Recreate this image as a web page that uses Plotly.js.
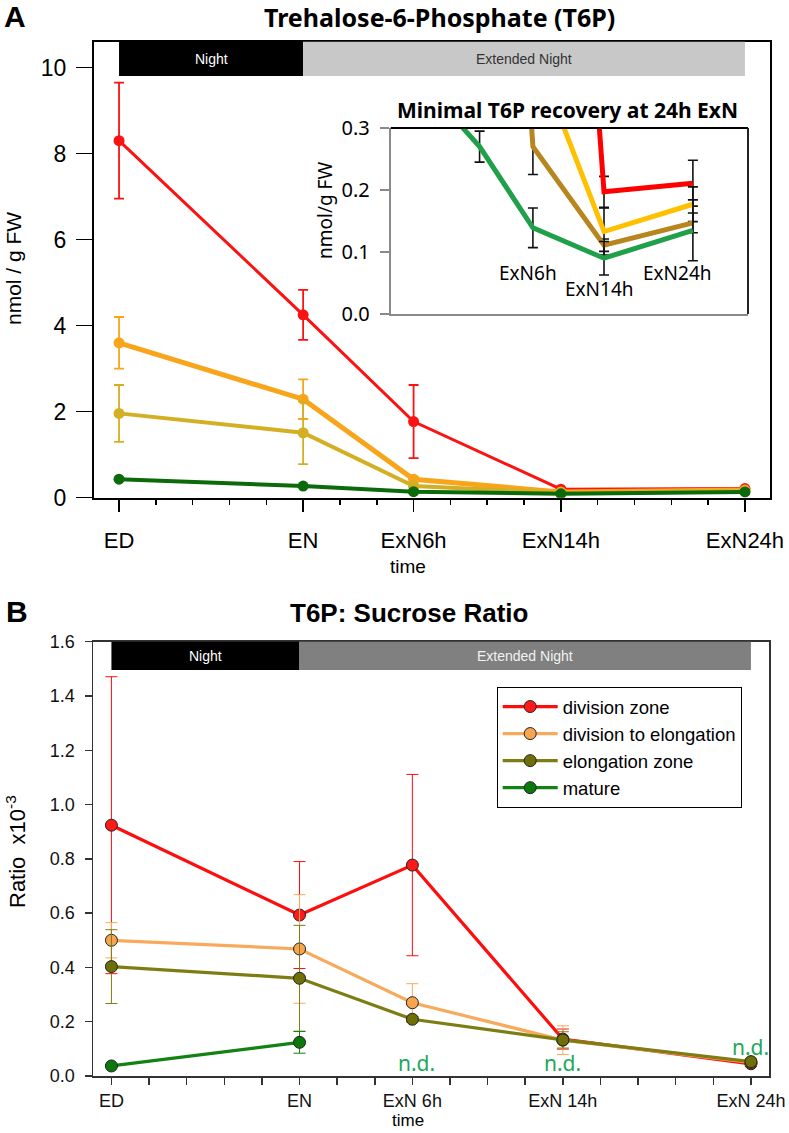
<!DOCTYPE html>
<html>
<head>
<meta charset="utf-8">
<script src="https://cdn.plot.ly/plotly-3.0.1.min.js"></script>
<style>html,body{margin:0;padding:0;background:#fff;}#chart{width:789px;height:1133px;}</style>
</head>
<body>
<div id="chart"></div>
<script>
// ---------- data ----------
const timesH = [0, 10, 16, 24, 34];
const tickLabelsA = ['ED', 'EN', 'ExN6h', 'ExN14h', 'ExN24h'];
const tickLabelsB = ['ED', 'EN', 'ExN 6h', 'ExN 14h', 'ExN 24h'];
const insetLabels = ['ExN6h', 'ExN14h', 'ExN24h'];
const seriesNames = ['division zone', 'division to elongation', 'elongation zone', 'mature'];

// Panel A: T6P (nmol / g FW)
const t6pDivision = [8.30, 4.25, 1.77, 0.197, 0.211];
const t6pDivisionErr = [1.35, 0.58, 0.85, 0.025, 0.037];
const t6pDivToElong = [3.60, 2.29, 0.43, 0.133, 0.177];
const t6pDivToElongErr = [0.60, 0.46, 0.06, 0.038, 0.028];
const t6pElong = [1.96, 1.51, 0.27, 0.111, 0.147];
const t6pElongErr = [0.66, 0.73, 0.045, 0.010, 0.016];
const t6pMature = [0.43, 0.27, 0.139, 0.090, 0.135];
const t6pMatureErr = [0.03, 0.025, 0.032, 0.027, 0.049];

// Panel B: T6P:Sucrose ratio (x10^-3)
const ratioDivision = [0.924, 0.593, 0.777, 0.136, 0.045];
const ratioDivisionErr = [0.547, 0.197, 0.334, 0.037, 0.010];
const ratioDivToElong = [0.500, 0.468, 0.270, 0.132, 0.050];
const ratioDivToElongErr = [0.065, 0.200, 0.070, 0.053, 0.010];
const ratioElong = [0.403, 0.360, 0.209, 0.133, 0.053];
const ratioElongErr = [0.136, 0.195, 0.010, 0.030, 0.010];
const ratioMature = [0.037, 0.124, null, null, null];
const ratioMatureErr = [0.005, 0.040, null, null, null];
const notDetected = [false, false, true, true, true];

// ---------- styling ----------
const W = 789, H = 1133;
const px = v => v / W;
const py = v => 1 - v / H;
const AR = 'Liberation Sans, Arial, sans-serif';
const NS = 'Noto Sans, Open Sans, sans-serif';

const colA = ['#fb1212', '#f9a51c', '#d3b023', '#0b6b0b'];
const colInset = ['#ff0000', '#ffc000', '#b8861e', '#21a04a'];
const colB = ['#ff0d0d', '#f8aa5c', '#7d7d14', '#128212'];
const markB = ['#ff1a1a', '#f9a44f', '#6f6f08', '#0c780c'];

const aVals = [t6pDivision, t6pDivToElong, t6pElong, t6pMature];
const aErrs = [t6pDivisionErr, t6pDivToElongErr, t6pElongErr, t6pMatureErr];
const aWidths = [3, 5, 4, 4];
const bVals = [ratioDivision, ratioDivToElong, ratioElong, ratioMature];
const bErrs = [ratioDivisionErr, ratioDivToElongErr, ratioElongErr, ratioMatureErr];

const traces = [];
// Panel A main
aVals.forEach((v, i) => {
  traces.push({
    x: timesH, y: v, xaxis: 'x', yaxis: 'y', type: 'scatter', mode: 'lines+markers',
    line: {color: colA[i], width: aWidths[i]}, marker: {color: colA[i], size: 11},
    error_y: {type: 'data', array: aErrs[i], visible: true, color: colA[i], thickness: 1.8, width: 5},
    showlegend: false, hoverinfo: 'skip'
  });
});
// Panel A inset
aVals.forEach((v, i) => {
  traces.push({
    x: timesH, y: v, xaxis: 'x2', yaxis: 'y2', type: 'scatter', mode: 'lines',
    line: {color: colInset[i], width: 5},
    error_y: {type: 'data', array: aErrs[i], visible: true, color: '#111', thickness: 1.6, width: 5},
    showlegend: false, hoverinfo: 'skip'
  });
});
// Panel B
bVals.forEach((v, i) => {
  traces.push({
    x: timesH, y: v, xaxis: 'x3', yaxis: 'y3', type: 'scatter', mode: 'lines+markers',
    name: seriesNames[i], legendrank: i + 1,
    line: {color: colB[i], width: 3.2},
    marker: {color: markB[i], size: 12, line: {color: '#222', width: 1}},
    error_y: {type: 'data', array: bErrs[i], visible: true, color: colB[i], thickness: 1, width: 6},
    showlegend: true, hoverinfo: 'skip'
  });
});

// ---------- layout geometry ----------
const A = {l: 94, r: 770, t: 41.7, b: 497.7};
const INS = {l: 390.7, r: 748, t: 128, b: 314};
const B = {l: 93, r: 769, t: 641.7, b: 1076};

const shapes = [
  // Panel A night bars
  {type: 'rect', xref: 'x', yref: 'y domain', x0: timesH[0], x1: timesH[1], y0: 0.9248, y1: 1, fillcolor: '#000', line: {width: 0}},
  {type: 'rect', xref: 'x', yref: 'y domain', x0: timesH[1], x1: timesH[4], y0: 0.9248, y1: 1, fillcolor: '#c8c8c8', line: {width: 0}},
  // inset top and right frame (black)
  {type: 'line', xref: 'paper', yref: 'paper', x0: px(INS.l), x1: px(INS.r), y0: py(INS.t), y1: py(INS.t), line: {color: '#000', width: 2}},
  {type: 'line', xref: 'paper', yref: 'paper', x0: px(INS.r), x1: px(INS.r), y0: py(INS.t), y1: py(INS.b), line: {color: '#222', width: 2}},
  // Panel B night bars
  {type: 'rect', xref: 'x3', yref: 'y3 domain', x0: timesH[0], x1: timesH[1], y0: 0.9348, y1: 1, fillcolor: '#000', line: {width: 0}},
  {type: 'rect', xref: 'x3', yref: 'y3 domain', x0: timesH[1], x1: timesH[4], y0: 0.9348, y1: 1, fillcolor: '#808080', line: {width: 0}}
];

const annotations = [
  {text: '<b>A</b>', xref: 'paper', yref: 'paper', x: px(2), y: py(16), xanchor: 'left', yanchor: 'middle', showarrow: false, font: {family: AR, size: 30, color: '#000'}},
  {text: '<b>Trehalose-6-Phosphate (T6P)</b>', xref: 'paper', yref: 'paper', x: px(439), y: py(17), xanchor: 'center', yanchor: 'middle', showarrow: false, font: {family: NS, size: 25, color: '#000'}},
  {text: 'Night', xref: 'x', yref: 'paper', x: (timesH[0] + timesH[1]) / 2, y: py(59), showarrow: false, yanchor: 'middle', font: {family: AR, size: 14, color: '#fff'}},
  {text: 'Extended Night', xref: 'x', yref: 'paper', x: (timesH[1] + timesH[4]) / 2, y: py(59), showarrow: false, yanchor: 'middle', font: {family: AR, size: 14, color: '#333'}},
  {text: 'nmol / g FW', xref: 'paper', yref: 'paper', x: px(14), y: py(269), textangle: -90, showarrow: false, xanchor: 'center', yanchor: 'middle', font: {family: AR, size: 21, color: '#000'}},
  {text: 'time', xref: 'paper', yref: 'paper', x: px(408), y: py(566), showarrow: false, xanchor: 'center', yanchor: 'middle', font: {family: AR, size: 19, color: '#000'}},
  // inset
  {text: '<b>Minimal T6P recovery at 24h ExN</b>', xref: 'paper', yref: 'paper', x: px(567), y: py(110), showarrow: false, xanchor: 'center', yanchor: 'middle', font: {family: NS, size: 21, color: '#000'}},
  {text: 'nmol/g FW', xref: 'paper', yref: 'paper', x: px(325), y: py(211), textangle: -90, showarrow: false, xanchor: 'center', yanchor: 'middle', font: {family: NS, size: 19, color: '#000'}},
  {text: insetLabels[0], xref: 'x2', yref: 'paper', x: timesH[2], xshift: -5, y: py(273), showarrow: false, yanchor: 'middle', font: {family: NS, size: 19, color: '#000'}},
  {text: insetLabels[1], xref: 'x2', yref: 'paper', x: timesH[3], xshift: -5, y: py(289), showarrow: false, yanchor: 'middle', font: {family: NS, size: 19, color: '#000'}},
  {text: insetLabels[2], xref: 'x2', yref: 'paper', x: timesH[4], xshift: -15, y: py(273), showarrow: false, yanchor: 'middle', font: {family: NS, size: 19, color: '#000'}},
  // Panel B
  {text: '<b>B</b>', xref: 'paper', yref: 'paper', x: px(4), y: py(611), xanchor: 'left', yanchor: 'middle', showarrow: false, font: {family: AR, size: 30, color: '#000'}},
  {text: '<b>T6P: Sucrose Ratio</b>', xref: 'paper', yref: 'paper', x: px(409), y: py(613), xanchor: 'center', yanchor: 'middle', showarrow: false, font: {family: AR, size: 26, color: '#000'}},
  {text: 'Night', xref: 'x3', yref: 'paper', x: (timesH[0] + timesH[1]) / 2, y: py(656), showarrow: false, yanchor: 'middle', font: {family: AR, size: 14, color: '#fff'}},
  {text: 'Extended Night', xref: 'x3', yref: 'paper', x: (timesH[1] + timesH[4]) / 2, y: py(656), showarrow: false, yanchor: 'middle', font: {family: AR, size: 14, color: '#f2f2f2'}},
  {text: 'Ratio  x10<sup>-3</sup>', xref: 'paper', yref: 'paper', x: px(16), y: py(852), textangle: -90, showarrow: false, xanchor: 'center', yanchor: 'middle', font: {family: AR, size: 22, color: '#000'}},
  {text: 'time', xref: 'paper', yref: 'paper', x: px(408), y: py(1120), showarrow: false, xanchor: 'center', yanchor: 'middle', font: {family: AR, size: 17, color: '#000'}}
];
// n.d. markers for the mature zone
notDetected.forEach((nd, i) => {
  if (!nd) return;
  annotations.push({
    text: 'n.d.', xref: 'x3', yref: 'paper', x: timesH[i], xshift: i === 2 ? 4 : 0, y: i === 4 ? py(1047) : py(1063),
    showarrow: false, xanchor: 'center', yanchor: 'middle',
    font: {family: NS, size: 21, color: '#22a85a'}
  });
});

const layout = {
  width: W, height: H, margin: {l: 0, r: 0, t: 0, b: 0},
  paper_bgcolor: '#fff', plot_bgcolor: '#fff',
  showlegend: true,
  legend: {
    x: px(496.7), y: py(687), xanchor: 'left', yanchor: 'top',
    bordercolor: '#000', borderwidth: 1, bgcolor: '#fff',
    font: {family: AR, size: 18.5, color: '#000'}, itemwidth: 55, tracegroupgap: 0
  },
  xaxis: {
    domain: [px(A.l), px(A.r)], anchor: 'y', range: [-1.36, 35.36],
    tickmode: 'array', tickvals: timesH, ticktext: tickLabelsA,
    ticks: 'outside', ticklen: 12, tickwidth: 1.5, tickcolor: '#000',
    minor: {ticks: 'outside', tick0: 0, dtick: 2, ticklen: 5, tickwidth: 1.5, tickcolor: '#000', showgrid: false},
    showline: true, linecolor: '#000', linewidth: 2, mirror: true,
    showgrid: false, zeroline: false, ticklabelstandoff: 10,
    tickfont: {family: AR, size: 22, color: '#000'}
  },
  yaxis: {
    domain: [py(A.b), py(A.t)], anchor: 'x', range: [0, 10.6],
    tickmode: 'array', tickvals: [0, 2, 4, 6, 8, 10],
    ticks: 'outside', ticklen: 16, tickwidth: 1.5, tickcolor: '#000',
    showline: true, linecolor: '#000', linewidth: 2, mirror: true,
    showgrid: false, zeroline: false, ticklabelstandoff: 5,
    tickfont: {family: AR, size: 23, color: '#000'}
  },
  xaxis2: {
    domain: [px(INS.l), px(INS.r)], anchor: 'y2', range: [0, 40.2],
    showticklabels: false, ticks: '', showline: true, linecolor: '#8a8a8a', linewidth: 2,
    showgrid: false, zeroline: false
  },
  yaxis2: {
    domain: [py(INS.b), py(INS.t)], anchor: 'x2', range: [0, 0.3],
    tickmode: 'array', tickvals: [0, 0.1, 0.2, 0.3], ticktext: ['0.0', '0.1', '0.2', '0.3'],
    ticks: 'outside', ticklen: 9, tickwidth: 2, tickcolor: '#8a8a8a',
    showline: true, linecolor: '#8a8a8a', linewidth: 2,
    showgrid: false, zeroline: false, ticklabelstandoff: 6,
    tickfont: {family: NS, size: 20, color: '#000'}
  },
  xaxis3: {
    domain: [px(B.l), px(B.r)], anchor: 'y3', range: [-0.98, 34.96],
    tickmode: 'array', tickvals: timesH, ticktext: tickLabelsB,
    ticks: 'outside', ticklen: 7, tickwidth: 1.5, tickcolor: '#333',
    minor: {ticks: 'outside', tick0: 0, dtick: 2, ticklen: 7, tickwidth: 1.5, tickcolor: '#333', showgrid: false},
    showline: true, linecolor: '#333', linewidth: 1.5, mirror: true,
    showgrid: false, zeroline: false, ticklabelstandoff: 1,
    tickfont: {family: AR, size: 18, color: '#111'}
  },
  yaxis3: {
    domain: [py(B.b), py(B.t)], anchor: 'x3', range: [0, 1.6],
    tickmode: 'linear', tick0: 0, dtick: 0.2, tickformat: '.1f',
    ticks: 'outside', ticklen: 7, tickwidth: 1.5, tickcolor: '#333',
    showline: true, linecolor: '#333', linewidth: 1.5, mirror: true,
    showgrid: false, zeroline: false, ticklabelstandoff: 6,
    tickfont: {family: AR, size: 18, color: '#111'}
  },
  shapes: shapes,
  annotations: annotations
};

Plotly.newPlot('chart', traces, layout, {staticPlot: true, displayModeBar: false});
</script>
</body>
</html>
